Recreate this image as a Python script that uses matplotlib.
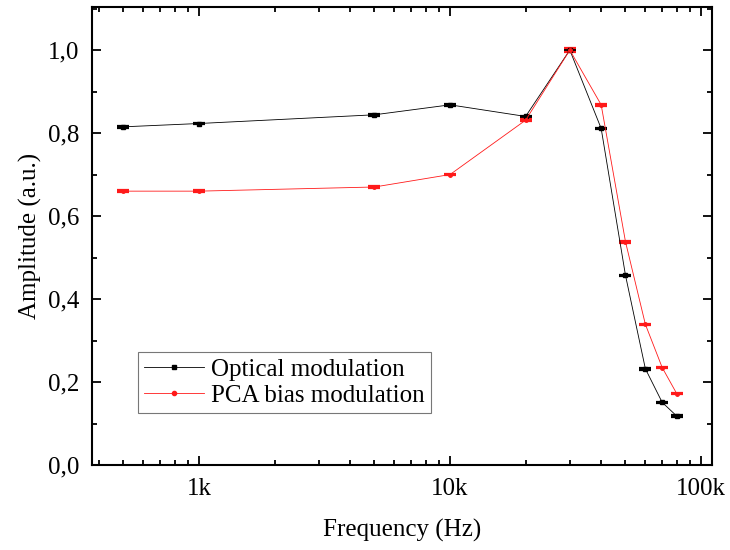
import matplotlib
matplotlib.use("Agg")
import matplotlib.pyplot as plt
from matplotlib.lines import Line2D
from matplotlib.ticker import FixedLocator, FuncFormatter, MultipleLocator

plt.rcParams['font.family'] = ['Liberation Serif', 'DejaVu Serif']

freq = [500, 1000, 5000, 10000, 20000, 30000, 40000, 50000, 60000, 70000, 80000]
optical = [0.815, 0.823, 0.844, 0.868, 0.840, 1.0, 0.811, 0.457, 0.232, 0.151, 0.118]
optical_err = [0.002] * 11
pca = [0.660, 0.660, 0.670, 0.700, 0.831, 1.0, 0.868, 0.538, 0.339, 0.235, 0.172]
pca_err = [0.002, 0.002, 0.002, 0.002, 0.002, 0.004, 0.002, 0.002, 0.002, 0.002, 0.002]
xtick_vals = [1000, 10000, 100000]
xtick_labels = ['1k', '10k', '100k']
series_names = ['Optical modulation', 'PCA bias modulation']
BLACK = 'black'
RED = '#ff1a1a'

fig = plt.figure(figsize=(7.3, 5.5), dpi=100)
ax = fig.add_axes([0.1256, 0.1545, 0.975 - 0.1256, 0.9867 - 0.1545])

ax.errorbar(freq, optical, yerr=optical_err, color=BLACK, lw=0.6, marker='s',
            ms=2.5, capsize=4, capthick=1.6, elinewidth=1.0)
ax.errorbar(freq, pca, yerr=pca_err, color=RED, lw=0.6, marker='o',
            ms=2.5, capsize=4, capthick=1.6, elinewidth=1.0)

ax.set_xscale('log')
ax.set_xlim(373.6, 110300)
ax.set_ylim(0, 1.103)

ax.xaxis.set_major_locator(FixedLocator(xtick_vals))
ax.set_xticklabels(xtick_labels)
minor = [m * 10 ** e for e in range(2, 6) for m in range(2, 10)]
ax.xaxis.set_minor_locator(FixedLocator(minor))
ax.xaxis.set_minor_formatter(FuncFormatter(lambda v, p: ''))

ax.yaxis.set_major_locator(MultipleLocator(0.2))
ax.yaxis.set_minor_locator(MultipleLocator(0.1))
ax.yaxis.set_major_formatter(FuncFormatter(lambda v, p: f"{v:.1f}".replace('.', ',')))

ax.tick_params(which='both', direction='in', top=True, right=True, width=1.3,
               labelsize=18, pad=9)
ax.tick_params(which='major', length=6.5)
ax.tick_params(which='minor', length=3.5)
for s in ax.spines.values():
    s.set_linewidth(1.5)

ax.set_xlabel('Frequency (Hz)', fontsize=18, labelpad=14)
ax.set_ylabel('Amplitude (a.u.)', fontsize=18, labelpad=4)

handles = [Line2D([], [], color=BLACK, lw=0.6, marker='s', ms=3),
           Line2D([], [], color=RED, lw=0.6, marker='o', ms=3)]
leg = ax.legend(handles, series_names, loc='lower left',
                bbox_to_anchor=(0.075, 0.113), fontsize=18,
                frameon=True, fancybox=False, edgecolor='#555555',
                handlelength=2.4, handletextpad=0.25, borderpad=0.25,
                labelspacing=0.15, borderaxespad=0)
leg.get_frame().set_linewidth(0.8)

fig.savefig('out.png', dpi=100)
